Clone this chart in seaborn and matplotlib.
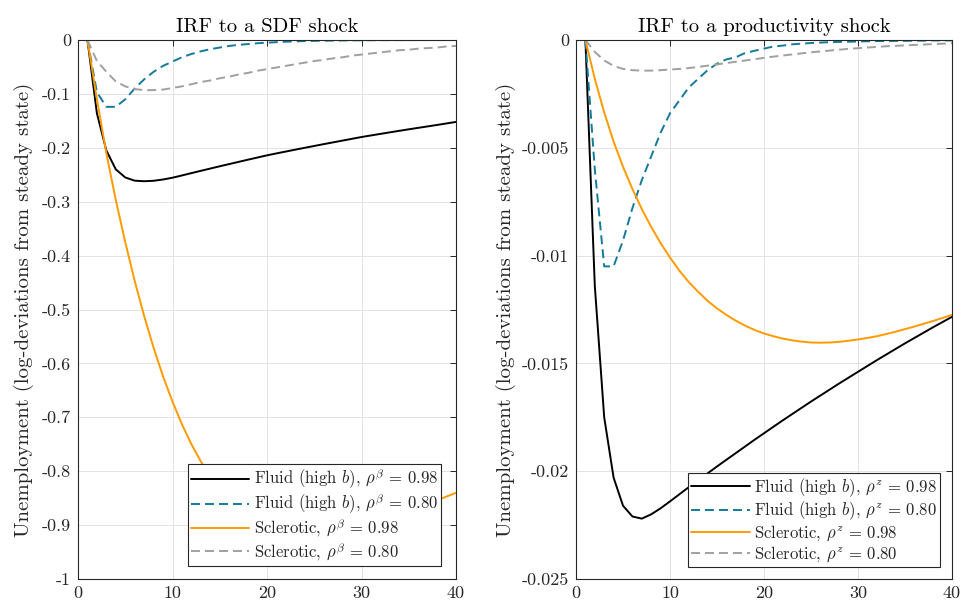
import matplotlib
matplotlib.use("Agg")
import matplotlib.pyplot as plt
import numpy as np
import pandas as pd
import seaborn as sns

# ---------------- data ----------------
periods = list(range(1, 41))

sdf_fluid_098 = [0, -0.136, -0.205, -0.240, -0.255, -0.261, -0.262, -0.2612, -0.2588, -0.2555,
                 -0.2513, -0.2470, -0.2427, -0.2385, -0.2343, -0.2302, -0.2261, -0.2220, -0.2180, -0.2140,
                 -0.2104, -0.2069, -0.2034, -0.2000, -0.1966, -0.1932, -0.1899, -0.1866, -0.1833, -0.1800,
                 -0.1771, -0.1742, -0.1713, -0.1685, -0.1657, -0.1630, -0.1603, -0.1576, -0.1548, -0.1520]
sdf_fluid_080 = [0, -0.097, -0.124, -0.124, -0.110, -0.090, -0.073, -0.059, -0.048, -0.040,
                 -0.032, -0.026, -0.021, -0.017, -0.014, -0.011, -0.009, -0.0075, -0.006, -0.005,
                 -0.004, -0.0032, -0.0025, -0.002, -0.0016, -0.0013, -0.001, -0.0008, -0.0006, -0.0005,
                 -0.0004, -0.0003, -0.00025, -0.0002, -0.00015, -0.00012, -0.0001, -0.00008, -0.00006, -0.00005]
sdf_scler_098 = [0, -0.110, -0.210, -0.297, -0.375, -0.447, -0.512, -0.571, -0.624, -0.671,
                 -0.713, -0.750, -0.782, -0.810, -0.834, -0.854, -0.871, -0.885, -0.896, -0.905,
                 -0.912, -0.917, -0.920, -0.922, -0.922, -0.921, -0.918, -0.915, -0.910, -0.905,
                 -0.899, -0.893, -0.887, -0.880, -0.874, -0.867, -0.861, -0.854, -0.847, -0.840]
sdf_scler_080 = [0, -0.039, -0.059, -0.077, -0.086, -0.091, -0.093, -0.093, -0.092, -0.089,
                 -0.086, -0.082, -0.078, -0.075, -0.071, -0.068, -0.064, -0.061, -0.057, -0.054,
                 -0.051, -0.048, -0.045, -0.042, -0.039, -0.037, -0.034, -0.032, -0.029, -0.027,
                 -0.025, -0.023, -0.021, -0.019, -0.018, -0.016, -0.015, -0.014, -0.012, -0.011]

prod_fluid_098 = [0, -0.0114, -0.0175, -0.0203, -0.0216, -0.0221, -0.0222, -0.0220, -0.02172, -0.02140,
                  -0.02107, -0.02074, -0.02042, -0.02010, -0.01978, -0.01947, -0.01916, -0.01885, -0.01854, -0.01824,
                  -0.01794, -0.01764, -0.01735, -0.01706, -0.01677, -0.01649, -0.01621, -0.01593, -0.01566, -0.01539,
                  -0.01512, -0.01485, -0.01459, -0.01433, -0.01407, -0.01382, -0.01357, -0.01332, -0.01308, -0.01284]
prod_fluid_080 = [0, -0.0060, -0.0105, -0.0105, -0.0093, -0.0078, -0.0065, -0.0054, -0.0043, -0.0034,
                  -0.0028, -0.0022, -0.0018, -0.0014, -0.0011, -0.0009, -0.0008, -0.0006, -0.0005, -0.0004,
                  -0.0003, -0.00026, -0.0002, -0.00017, -0.00014, -0.00012, -0.0001, -0.00009, -0.00008, -0.00007,
                  -0.00006, -0.00005, -0.00005, -0.00004, -0.00004, -0.00003, -0.00003, -0.00002, -0.00002, -0.00002]
prod_scler_098 = [0, -0.0018, -0.00336, -0.00471, -0.00588, -0.00691, -0.00784, -0.00867, -0.00942, -0.01009,
                  -0.0107, -0.01123, -0.01168, -0.01210, -0.01245, -0.01275, -0.01302, -0.01325, -0.01345, -0.01361,
                  -0.01374, -0.01385, -0.01393, -0.01399, -0.01403, -0.01404, -0.01403, -0.01400, -0.01395, -0.01389,
                  -0.01382, -0.01374, -0.01364, -0.01353, -0.01341, -0.01329, -0.01316, -0.01303, -0.01289, -0.01275]
prod_scler_080 = [0, -0.00055, -0.00095, -0.00120, -0.00134, -0.00140, -0.00142, -0.00142, -0.00140, -0.00137,
                  -0.00134, -0.00130, -0.00125, -0.00119, -0.00113, -0.00107, -0.00101, -0.00095, -0.00089, -0.00083,
                  -0.00077, -0.00072, -0.00067, -0.00062, -0.00057, -0.00053, -0.00049, -0.00045, -0.00041, -0.00038,
                  -0.00035, -0.00032, -0.00029, -0.00027, -0.00025, -0.00023, -0.00021, -0.00019, -0.00017, -0.00015]

sdf_labels = [r"Fluid (high $b$), $\rho^{\beta}$ = 0.98",
              r"Fluid (high $b$), $\rho^{\beta}$ = 0.80",
              r"Sclerotic, $\rho^{\beta}$ = 0.98",
              r"Sclerotic, $\rho^{\beta}$ = 0.80"]
prod_labels = [r"Fluid (high $b$), $\rho^{z}$ = 0.98",
               r"Fluid (high $b$), $\rho^{z}$ = 0.80",
               r"Sclerotic, $\rho^{z}$ = 0.98",
               r"Sclerotic, $\rho^{z}$ = 0.80"]

sdf_yticks = [0, -0.1, -0.2, -0.3, -0.4, -0.5, -0.6, -0.7, -0.8, -0.9, -1]
sdf_yticklabels = ["0", "-0.1", "-0.2", "-0.3", "-0.4", "-0.5", "-0.6", "-0.7", "-0.8", "-0.9", "-1"]
prod_yticks = [0, -0.005, -0.01, -0.015, -0.02, -0.025]
prod_yticklabels = ["0", "-0.005", "-0.01", "-0.015", "-0.02", "-0.025"]
xticks = [0, 10, 20, 30, 40]

# ---------------- style ----------------
sns.set_theme(style="white")
plt.rcParams.update({
    "font.family": "serif",
    "font.serif": ["cmr10"],
    "mathtext.fontset": "cm",
    "axes.unicode_minus": False,
    "axes.formatter.use_mathtext": True,
})

colors = ["#000000", "#137a9c", "#ff9a00", "#a0a0a0"]
dash_styles = ["", (4.6, 2.6), "", (4.6, 2.6)]
ink = "#262626"

fig = plt.figure(figsize=(9.62, 6.06), dpi=100)
ax1 = fig.add_axes([78 / 962, 27 / 606, 378 / 962, 539 / 606])
ax2 = fig.add_axes([576 / 962, 27 / 606, 376 / 962, 539 / 606])


def panel(ax, series, labels, title, yticks, yticklabels, anchor, lpad):
    df = pd.DataFrame({
        "t": periods * len(series),
        "value": [v for s in series for v in s],
        "series": [lab for lab, s in zip(labels, series) for _ in s],
    })
    sns.lineplot(data=df, x="t", y="value", hue="series", style="series",
                 hue_order=labels, style_order=labels,
                 palette=dict(zip(labels, colors)),
                 dashes=dict(zip(labels, dash_styles)),
                 linewidth=1.4, ax=ax, legend=True)
    ax.set_xlim(0, 40)
    ax.set_ylim(yticks[-1], 0)
    ax.set_xticks(xticks)
    ax.set_xticklabels([str(x) for x in xticks])
    ax.set_yticks(yticks)
    ax.set_yticklabels(yticklabels)
    ax.grid(True, color="#e3e3e3", linewidth=0.7)
    ax.set_axisbelow(True)
    for sp in ax.spines.values():
        sp.set_visible(True)
        sp.set_color(ink)
        sp.set_linewidth(0.8)
    ax.tick_params(direction="in", top=True, right=True, length=4, width=0.7,
                   color=ink, labelcolor=ink, labelsize=13, pad=5)
    ax.set_xlabel("")
    ax.set_ylabel("Unemployment (log-deviations from steady state)",
                  fontsize=15, color=ink, labelpad=lpad)
    ax.set_title(title, fontsize=14.8, color="#000000", pad=6)
    handles, labs = ax.get_legend_handles_labels()
    leg = ax.legend(handles, labs, loc="lower right", bbox_to_anchor=anchor,
                    frameon=True, fancybox=False, framealpha=1, edgecolor=ink,
                    fontsize=12.0, handlelength=3.5, handletextpad=0.25,
                    labelspacing=0.05, borderpad=0.2, borderaxespad=0)
    leg.get_frame().set_linewidth(0.8)
    for txt in leg.get_texts():
        txt.set_color(ink)


panel(ax1, [sdf_fluid_098, sdf_fluid_080, sdf_scler_098, sdf_scler_080], sdf_labels,
      "IRF to a SDF shock", sdf_yticks, sdf_yticklabels, (0.960, 0.024), 6)
panel(ax2, [prod_fluid_098, prod_fluid_080, prod_scler_098, prod_scler_080], prod_labels,
      "IRF to a productivity shock", prod_yticks, prod_yticklabels, (0.968, 0.022), 4)

fig.savefig("out.png", dpi=100)
